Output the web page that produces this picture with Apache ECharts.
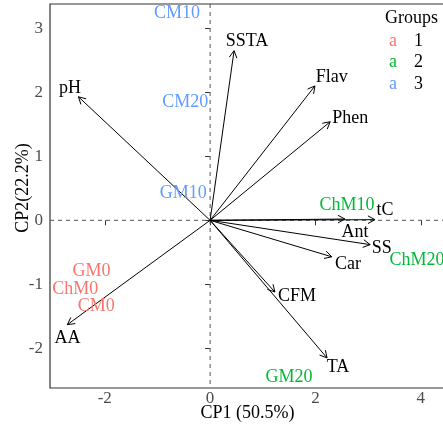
<!DOCTYPE html>
<html><head><meta charset="utf-8">
<script src="https://cdn.jsdelivr.net/npm/echarts@6/dist/echarts.min.js"></script>
<style>html,body{margin:0;padding:0;background:#fff}#c{width:443px;height:428px}</style>
</head><body><div id="c"></div>
<script>
// Variable loadings (arrows)
const varNames = ['pH','SSTA','Flav','Phen','tC','Ant','SS','Car','CFM','TA','AA'];
const varX = [-2.50, 0.455, 1.99, 2.28, 3.13, 2.56, 3.04, 2.31, 1.23, 2.22, -2.71];
const varY = [1.93, 2.65, 2.10, 1.54, 0.01, 0.02, -0.38, -0.57, -1.12, -2.15, -1.63];
const varLabX = [-2.66, 0.70, 2.31, 2.66, 3.32, 2.75, 3.26, 2.62, 1.65, 2.43, -2.71];
const varLabY = [2.07, 2.79, 2.23, 1.60, 0.15, -0.18, -0.43, -0.69, -1.18, -2.30, -1.85];
// Individuals (text labels)
const indNames = ['GM0','ChM0','CM0','ChM10','ChM20','GM20','CM10','CM20','GM10'];
const indX = [-2.25, -2.56, -2.16, 2.60, 3.93, 1.50, -0.63, -0.47, -0.51];
const indY = [-0.80, -1.07, -1.35, 0.24, -0.62, -2.46, 3.23, 1.85, 0.43];
const indGroup = ['1','1','1','2','2','2','3','3','3'];
const groups = ['1','2','3'];
const groupColors = {'1':'#F8766D','2':'#00BA38','3':'#619CFF'};
const xTicks = [-2, 0, 2, 4];
const yTicks = [-2, -1, 0, 1, 2, 3];

const FAM = 'Liberation Serif';
const FONT = '"Liberation Serif", serif';
const chart = echarts.init(document.getElementById('c'), null, {renderer:'canvas'});

const legendGraphics = [
  {type:'text', left:385, top:9, style:{text:'Groups', font:'18px '+FONT, fill:'#000'}},
  {type:'text', x:23, y:188, rotation:Math.PI/2, style:{text:'CP2(22.2%)', align:'center', verticalAlign:'middle', font:'18px '+FONT, fill:'#000'}}
];
groups.forEach((g,i)=>{
  legendGraphics.push({type:'text', left:389, top:32+i*21.5, style:{text:'a', font:'18px '+FONT, fill:groupColors[g]}});
  legendGraphics.push({type:'text', left:414, top:32+i*21.5, style:{text:g, font:'18px '+FONT, fill:'#000'}});
});

function fmt(v){ return v < 0 ? '-' + Math.abs(v) : String(v); }

chart.setOption({
  animation:false,
  textStyle:{fontFamily:FAM},
  grid:{left:50, top:4, right:-2, bottom:40, outerBoundsMode:'none', containLabel:false,
        show:true, borderColor:'#333', borderWidth:1.2, backgroundColor:'#fff'},
  xAxis:{type:'value', min:-3.04, max:4.46,
    name:'CP1 (50.5%)', nameLocation:'middle', nameGap:16, nameMoveOverlap:false,
    nameTextStyle:{fontFamily:FAM, fontSize:18, color:'#000'},
    axisLine:{show:false}, splitLine:{show:false},
    axisTick:{show:true, customValues:xTicks, length:5, lineStyle:{color:'#333'}},
    axisLabel:{show:false}},
  yAxis:{type:'value', min:-2.62, max:3.38,
    axisLine:{show:false}, splitLine:{show:false},
    axisTick:{show:true, customValues:yTicks, length:5, lineStyle:{color:'#333'}},
    axisLabel:{show:false}},
  graphic: legendGraphics,
  series:[
    {type:'custom', data:[[0,0]], encode:{x:0,y:1}, silent:true, z:1,
     renderItem:(params, api)=>{
       const o = api.coord([0,0]); const cs = params.coordSys;
       const st = {stroke:'#555', lineWidth:1, lineDash:[4,4]};
       return {type:'group', children:[
         {type:'line', shape:{x1:o[0], y1:cs.y, x2:o[0], y2:cs.y+cs.height}, style:st},
         {type:'line', shape:{x1:cs.x, y1:o[1], x2:cs.x+cs.width, y2:o[1]}, style:st}
       ]};
     }},
    // x tick labels
    {type:'custom', data:xTicks.map(v=>[v,0]), encode:{x:0,y:1}, silent:true, clip:false, z:3,
     renderItem:(params, api)=>{
       const p = api.coord([api.value(0), 0]); const cs = params.coordSys;
       return {type:'text', style:{text:fmt(api.value(0)), x:p[0], y:cs.y+cs.height+11, align:'center', verticalAlign:'middle', font:'17px '+FONT, fill:'#4D4D4D'}};
     }},
    // y tick labels
    {type:'custom', data:yTicks.map(v=>[0,v]), encode:{x:0,y:1}, silent:true, clip:false, z:3,
     renderItem:(params, api)=>{
       const p = api.coord([0, api.value(1)]); const cs = params.coordSys;
       return {type:'text', style:{text:fmt(api.value(1)), x:cs.x-7, y:p[1], align:'right', verticalAlign:'middle', font:'17px '+FONT, fill:'#4D4D4D'}};
     }},
    {type:'custom', data:varX.map((x,i)=>[x,varY[i]]), encode:{x:0,y:1}, silent:true, z:2,
     renderItem:(params, api)=>{
       const o = api.coord([0,0]); const p = api.coord([api.value(0), api.value(1)]);
       const a = Math.atan2(p[1]-o[1], p[0]-o[0]); const L = 8, w = 0.5;
       const st = {stroke:'#000', lineWidth:1, fill:null};
       return {type:'group', children:[
         {type:'line', shape:{x1:o[0], y1:o[1], x2:p[0], y2:p[1]}, style:st},
         {type:'polyline', shape:{points:[
           [p[0]-L*Math.cos(a-w), p[1]-L*Math.sin(a-w)], [p[0],p[1]],
           [p[0]-L*Math.cos(a+w), p[1]-L*Math.sin(a+w)]]}, style:st}
       ]};
     }},
    {type:'custom', data:varLabX.map((x,i)=>[x,varLabY[i],i]), encode:{x:0,y:1}, silent:true, z:3,
     renderItem:(params, api)=>{
       const p = api.coord([api.value(0), api.value(1)]);
       return {type:'text', style:{text:varNames[params.dataIndex], x:p[0], y:p[1], align:'center', verticalAlign:'middle', font:'18px '+FONT, fill:'#000'}};
     }},
    {type:'custom', data:indX.map((x,i)=>[x,indY[i]]), encode:{x:0,y:1}, silent:true, z:3,
     renderItem:(params, api)=>{
       const p = api.coord([api.value(0), api.value(1)]);
       const i = params.dataIndex;
       return {type:'text', style:{text:indNames[i], x:p[0], y:p[1], align:'center', verticalAlign:'middle', font:'18px '+FONT, fill:groupColors[indGroup[i]]}};
     }}
  ]
});
</script></body></html>
